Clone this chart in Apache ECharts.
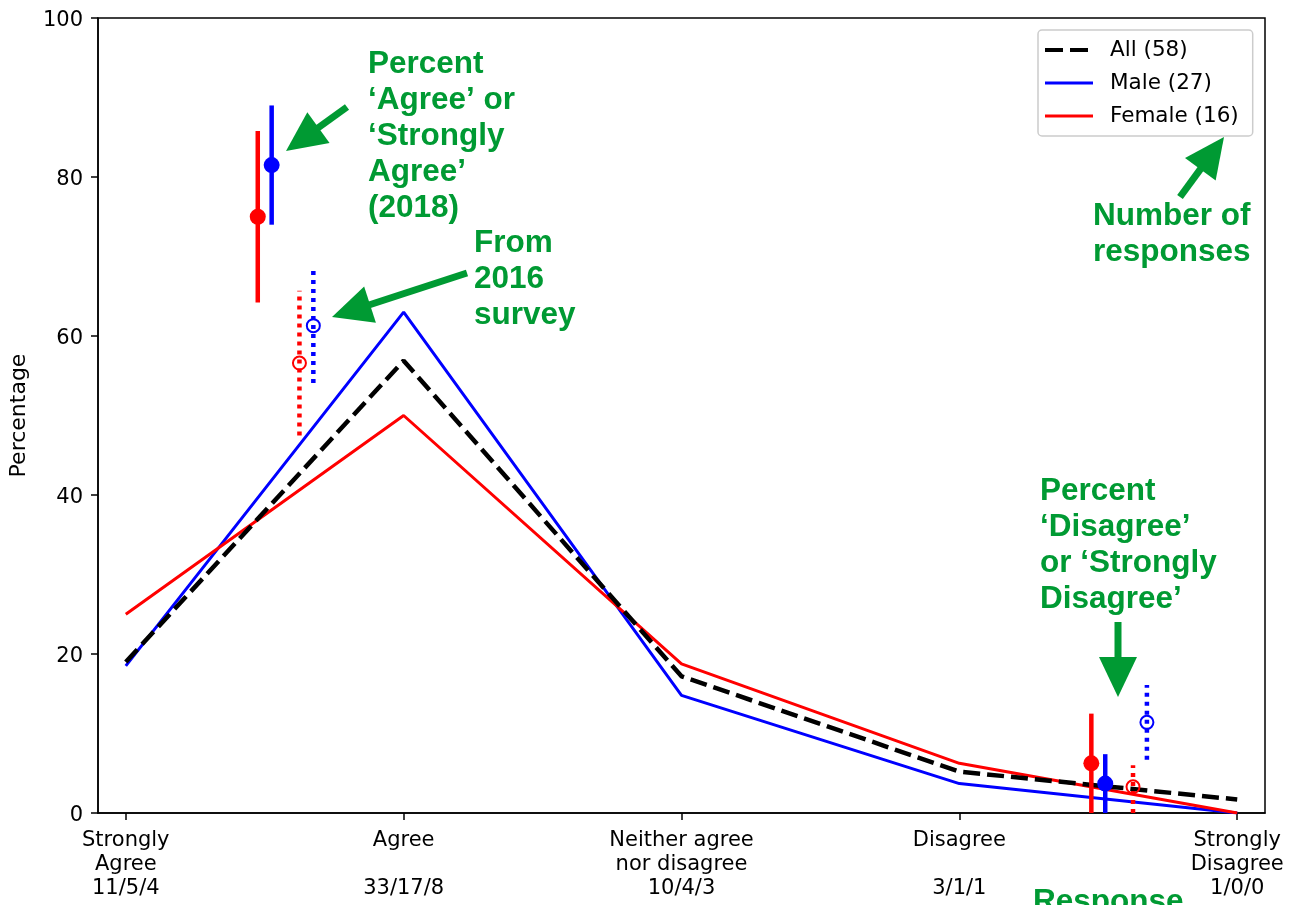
<!DOCTYPE html>
<html>
<head>
<meta charset="utf-8">
<script src="https://cdn.jsdelivr.net/npm/echarts@6/dist/echarts.min.js"></script>
<style>
  html, body {margin: 0; padding: 0; background: #fff;}
  #chart {width: 1303px; height: 905px;}
</style>
</head>
<body>
<div id="chart"></div>
<script>
  // categories on the x axis and the response counts (all/male/female)
  const levels = ['Strongly\nAgree', 'Agree', 'Neither agree\nnor disagree', 'Disagree', 'Strongly\nDisagree'];
  const counts = ['11/5/4', '33/17/8', '10/4/3', '3/1/1', '1/0/0'];
  const levelPos = [0, 1, 2, 3, 4];

  // percentages per response level
  const allPct = [19.0, 56.9, 17.2, 5.2, 1.7];
  const malePct = [18.5, 63.0, 14.8, 3.7, 0];
  const femalePct = [25.0, 50.0, 18.75, 6.25, 0];

  // summary points: [agree side, disagree side]
  const female2018X = [0.475, 3.475], female2018 = [75.0, 6.25], female2018Lo = [64.2, 0], female2018Hi = [85.8, 12.5];
  const male2018X = [0.525, 3.525], male2018 = [81.5, 3.7], male2018Lo = [74.0, 0], male2018Hi = [89.0, 7.4];
  const female2016X = [0.625, 3.625], female2016 = [56.6, 3.3], female2016Lo = [47.5, 0], female2016Hi = [65.7, 6.0];
  const male2016X = [0.675, 3.675], male2016 = [61.3, 11.4], male2016Lo = [54.1, 6.7], male2016Hi = [68.7, 16.1];

  const yTicks = [0, 20, 40, 60, 80, 100];

  const green = '#009a33';
  const tickFont = 'DejaVu Sans';

  function pairs(xs, ys) {
    return xs.map((x, i) => [x, ys[i]]);
  }
  function rows(xs, c, lo, hi) {
    return xs.map((x, i) => [x, c[i], lo[i], hi[i]]);
  }

  function errorBar(color, dotted, filled) {
    return function (params, api) {
      const x = api.value(0);
      const pC = api.coord([x, api.value(1)]);
      const pLo = api.coord([x, api.value(2)]);
      const pHi = api.coord([x, api.value(3)]);
      return {
        type: 'group',
        children: [
          {
            type: 'line',
            shape: {x1: pLo[0], y1: pLo[1], x2: pHi[0], y2: pHi[1]},
            style: {stroke: color, lineWidth: 4.5, lineDash: dotted ? [4, 5] : null}
          },
          {
            type: 'circle',
            shape: {cx: pC[0], cy: pC[1], r: filled ? 8 : 6.5},
            style: filled ? {fill: color} : {fill: 'none', stroke: color, lineWidth: 2}
          }
        ]
      };
    };
  }

  // green arrow: shaft + triangle head, tip at (x2,y2)
  function arrow(x1, y1, x2, y2) {
    const len = 40, half = 19;
    const dx = x2 - x1, dy = y2 - y1;
    const d = Math.sqrt(dx * dx + dy * dy);
    const ux = dx / d, uy = dy / d;
    const bx = x2 - ux * len, by = y2 - uy * len;
    return {
      type: 'group',
      children: [
        {type: 'line', shape: {x1: x1, y1: y1, x2: bx + ux * 2, y2: by + uy * 2}, style: {stroke: green, lineWidth: 7}},
        {type: 'polygon', shape: {points: [[x2, y2], [bx - uy * half, by + ux * half], [bx + uy * half, by - ux * half]]}, style: {fill: green}}
      ]
    };
  }

  function note(x, y, lines) {
    return {
      type: 'text',
      left: x,
      top: y,
      style: {
        text: lines.join('\n'),
        font: 'bold 31.5px "Liberation Sans"',
        lineHeight: 36,
        fill: green
      },
      z: 100
    };
  }

  const solidIcon = 'path://M0,0H48V3H0Z';
  const dashIcon = 'path://M0,0H18V4H0Z M25,0H43V4H25Z M47.9,0H48V0.1H47.9Z';

  const chart = echarts.init(document.getElementById('chart'));
  chart.setOption({
    animation: false,
    grid: {left: 97, right: 38, top: 18, bottom: 92, show: true, borderColor: '#000', borderWidth: 1.5, backgroundColor: 'transparent'},
    legend: {
      data: [
        {name: 'All (58)', icon: dashIcon, itemStyle: {color: '#000'}},
        {name: 'Male (27)', icon: solidIcon, itemStyle: {color: '#0000ff'}},
        {name: 'Female (16)', icon: solidIcon, itemStyle: {color: '#ff0000'}}
      ],
      orient: 'vertical',
      left: 1038,
      top: 30,
      padding: [9, 14, 9, 7],
      itemWidth: 48,
      itemHeight: 4,
      itemGap: 11,
      borderColor: '#ccc',
      borderWidth: 1.5,
      borderRadius: 4,
      textStyle: {fontFamily: tickFont, fontSize: 21.5, lineHeight: 21, color: '#000', padding: [0, 0, 0, 12]}
    },
    xAxis: {
      type: 'value',
      min: -0.1,
      max: 4.1,
      splitLine: {show: false},
      axisLine: {show: true, onZero: false, lineStyle: {color: '#000', width: 1.5}},
      axisTick: {show: true, customValues: levelPos, length: 7, lineStyle: {color: '#000', width: 1.5}},
      axisLabel: {
        customValues: levelPos,
        margin: 16,
        fontFamily: tickFont,
        fontSize: 21,
        lineHeight: 24,
        color: '#000',
        formatter: function (v) {
          const i = levelPos.indexOf(Math.round(v));
          const lvl = levels[i];
          return lvl + (lvl.indexOf('\n') >= 0 ? '\n' : '\n\n') + counts[i];
        }
      }
    },
    yAxis: {
      type: 'value',
      min: 0,
      max: 100,
      interval: 20,
      name: 'Percentage',
      nameLocation: 'middle',
      nameGap: 68,
      nameTextStyle: {fontFamily: tickFont, fontSize: 22, color: '#000'},
      splitLine: {show: false},
      axisLine: {show: true, onZero: false, lineStyle: {color: '#000', width: 1.5}},
      axisTick: {show: true, length: 7, lineStyle: {color: '#000', width: 1.5}},
      axisLabel: {
        margin: 15,
        color: '#000',
        formatter: function (v) {
          return yTicks.indexOf(v) >= 0 ? '{t|' + v + '}' : '';
        },
        rich: {
          t: {fontFamily: tickFont, fontSize: 21, color: '#000', padding: [6, 0, 0, 0]}
        }
      }
    },
    series: [
      {
        name: 'All (58)', type: 'line', symbol: 'none', z: 3,
        data: pairs(levelPos, allPct),
        lineStyle: {color: '#000', width: 4.5, type: [17, 7]},
        itemStyle: {color: '#000'}
      },
      {
        name: 'Male (27)', type: 'line', symbol: 'none', z: 2,
        data: pairs(levelPos, malePct),
        lineStyle: {color: '#0000ff', width: 3},
        itemStyle: {color: '#0000ff'}
      },
      {
        name: 'Female (16)', type: 'line', symbol: 'none', z: 2,
        data: pairs(levelPos, femalePct),
        lineStyle: {color: '#ff0000', width: 3},
        itemStyle: {color: '#ff0000'}
      },
      {type: 'custom', name: 'f2018', z: 5, renderItem: errorBar('#ff0000', false, true), encode: {x: 0, y: 1}, data: rows(female2018X, female2018, female2018Lo, female2018Hi)},
      {type: 'custom', name: 'm2018', z: 5, renderItem: errorBar('#0000ff', false, true), encode: {x: 0, y: 1}, data: rows(male2018X, male2018, male2018Lo, male2018Hi)},
      {type: 'custom', name: 'f2016', z: 5, renderItem: errorBar('#ff0000', true, false), encode: {x: 0, y: 1}, data: rows(female2016X, female2016, female2016Lo, female2016Hi)},
      {type: 'custom', name: 'm2016', z: 5, renderItem: errorBar('#0000ff', true, false), encode: {x: 0, y: 1}, data: rows(male2016X, male2016, male2016Lo, male2016Hi)}
    ],
    graphic: [
      note(368, 46, ['Percent', '‘Agree’ or', '‘Strongly', 'Agree’', '(2018)']),
      note(474, 225, ['From', '2016', 'survey']),
      note(1093, 198, ['Number of', 'responses']),
      note(1040, 473, ['Percent', '‘Disagree’', 'or ‘Strongly', 'Disagree’']),
      note(1033, 884, ['Response']),
      arrow(347, 107, 286, 151),
      arrow(467, 273, 332, 317),
      arrow(1180, 197, 1224, 137),
      arrow(1118, 622, 1118, 697)
    ]
  });
</script>
</body>
</html>
